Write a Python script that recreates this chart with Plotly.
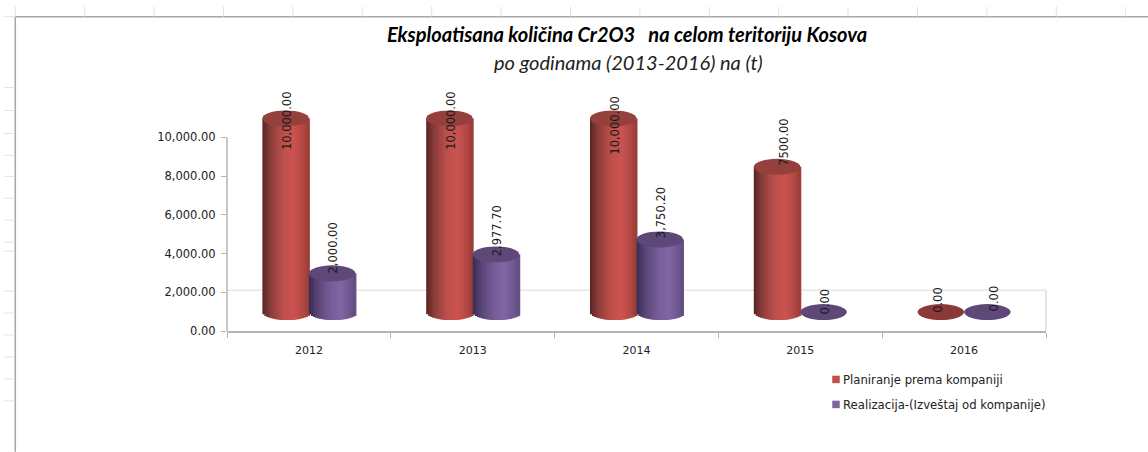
import plotly.graph_objects as go

# ---- data ----
categories = ["2012", "2013", "2014", "2015", "2016"]
planned = [10000.0, 10000.0, 10000.0, 7500.0, 0.0]
realized = [2000.0, 2977.7, 3750.2, 0.0, 0.0]
planned_labels = ["10,000.00", "10,000.00", "10,000.00", "7500.00", "0.00"]
realized_labels = ["2,000.00", "2,977.70", "3,750.20", "0.00", "0.00"]
series_names = ["Planiranje prema kompaniji", "Realizacija-(Izveštaj od kompanije)"]
y_ticks = [0, 2000, 4000, 6000, 8000, 10000]
# hand-placed data labels: pixel nudges (down, right) from the top of each cylinder
planned_nudge = [(2, 2), (2, 2), (7, 2), (-25, 7), (-12, -3)]
realized_nudge = [(-25, 1), (-24, 1), (-27, 2), (-10, 1), (-14, 7)]

# ---- geometry / style ----
W, H = 1148, 452
L, R_PX, B_PX = 227, 1046, 331
PX_PER_UNIT = 194 / 10000
YMAX = 12500
T_PX = B_PX - YMAX * PX_PER_UNIT
DEPTH = 980            # 3-D floor offset of the cylinders, in axis units
CAP = 8 / PX_PER_UNIT  # half height of the elliptical caps
CYL_W = 0.284
N_STRIPS = 23
GREY = "#b4b4b4"

RED_STOPS = [(0, (88, 38, 36)), (0.18, (140, 62, 59)), (0.45, (190, 80, 76)),
             (0.68, (203, 84, 80)), (0.88, (178, 72, 68)), (1, (150, 60, 57))]
PUR_STOPS = [(0, (58, 44, 82)), (0.18, (88, 68, 118)), (0.45, (118, 92, 152)),
             (0.68, (130, 102, 165)), (0.88, (112, 88, 144)), (1, (96, 76, 126))]
RED_TOP, PUR_TOP = "#96403e", "#5e4878"
RED_ZERO, PUR_ZERO = "#8c3a38", "#5e4878"


def shade(stops, t):
    for (t0, c0), (t1, c1) in zip(stops, stops[1:]):
        if t <= t1:
            f = (t - t0) / (t1 - t0)
            return "rgb(%d,%d,%d)" % tuple(a + (b - a) * f for a, b in zip(c0, c1))
    return "rgb(%d,%d,%d)" % stops[-1][1]


def px(x):
    return (x - L) / (R_PX - L)


def py(y):
    return (B_PX - y) / (B_PX - T_PX)


fig = go.Figure()

idx = list(range(len(categories)))
for values, offset, stops in ((planned, -CYL_W / 2, RED_STOPS), (realized, CYL_W / 2, PUR_STOPS)):
    strip = CYL_W / N_STRIPS
    for k in range(N_STRIPS):
        t = (k + 0.5) / N_STRIPS
        u = 2 * t - 1
        drop = CAP * (1 - u * u) ** 0.5
        fig.add_trace(go.Bar(
            x=[i + offset - CYL_W / 2 + k * strip for i in idx],
            y=[v + drop if v > 0 else 0 for v in values],
            base=[DEPTH - drop for _ in values],
            offset=0,
            width=strip * (2.5 if k < N_STRIPS - 1 else 1),  # overlap: the next strip paints over
            marker=dict(color=shade(stops, t), line=dict(width=0)),
            cliponaxis=False, showlegend=False, hoverinfo="skip",
        ))

# legend entries
for name, col in zip(series_names, ("#c0504d", "#8064a2")):
    fig.add_trace(go.Scatter(
        x=[None], y=[None], mode="markers", name=name, legendgroup=name,
        marker=dict(symbol="square", size=7.5, color=col),
    ))

shapes = []
# 3-D wall hint, axis line
WALL = 2100
shapes.append(dict(type="line", xref="paper", yref="y", x0=0, x1=1, y0=WALL, y1=WALL,
                   line=dict(color="#e6e6e6", width=1.5), layer="below"))
shapes.append(dict(type="line", xref="paper", yref="y", x0=1, x1=1, y0=WALL, y1=-200,
                   line=dict(color="#cccccc", width=1), layer="below"))
shapes.append(dict(type="line", xref="paper", yref="y", x0=0, x1=0, y0=0, y1=10000,
                   line=dict(color=GREY, width=1.5), layer="below"))

# cylinder caps
for values, offset, top, zero in ((planned, -CYL_W / 2, RED_TOP, RED_ZERO),
                                  (realized, CYL_W / 2, PUR_TOP, PUR_ZERO)):
    for i, v in zip(idx, values):
        shapes.append(dict(type="circle", xref="x", yref="y",
                           x0=i + offset - CYL_W / 2, x1=i + offset + CYL_W / 2,
                           y0=DEPTH + v - CAP, y1=DEPTH + v + CAP,
                           fillcolor=top if v > 0 else zero, line=dict(width=0), layer="above"))

# spreadsheet frame around the pasted chart
FRAME_X, FRAME_Y = 15.3, 16
shapes.append(dict(type="line", xref="paper", yref="paper", x0=px(FRAME_X), x1=px(W),
                   y0=py(FRAME_Y), y1=py(FRAME_Y), line=dict(color="#a6a6a6", width=1.5)))
shapes.append(dict(type="line", xref="paper", yref="paper", x0=px(FRAME_X), x1=px(FRAME_X),
                   y0=py(FRAME_Y), y1=py(H), line=dict(color="#a6a6a6", width=1.5)))
k = 0
while FRAME_X + 69.4 * k < W:
    xp = FRAME_X + 69.4 * k
    shapes.append(dict(type="line", xref="paper", yref="paper", x0=px(xp), x1=px(xp),
                       y0=py(FRAME_Y), y1=py(6), line=dict(color="#e2e2e2", width=1)))
    k += 1
for yp in [16, 87, 110, 133, 155, 176, 198, 220, 242, 251, 291, 313, 335, 357, 379, 401]:
    shapes.append(dict(type="line", xref="paper", yref="paper", x0=px(4), x1=px(15),
                       y0=py(yp), y1=py(yp), line=dict(color="#e2e2e2", width=1)))

annotations = []
for values, labels, nudges, offset in ((planned, planned_labels, planned_nudge, -CYL_W / 2),
                                       (realized, realized_labels, realized_nudge, CYL_W / 2)):
    for i, v, lab, (down, right) in zip(idx, values, labels, nudges):
        annotations.append(dict(x=i + offset, y=DEPTH + v, xref="x", yref="y", text=lab, textangle=-90,
                                showarrow=False, yshift=-down, xshift=right,
                                xanchor="center", yanchor="middle",
                                font=dict(family="DejaVu Sans", size=11.5, color="#1a1a1a")))

annotations.append(dict(xref="paper", yref="paper", x=px(628), y=py(61),
                        text="<i>po godinama (2013-2016) na (t)</i>", showarrow=False,
                        xanchor="center", yanchor="middle",
                        font=dict(family="Lato", size=20, color="#222222")))

fig.update_layout(
    width=W, height=H, autosize=False,
    margin=dict(l=L, r=W - R_PX, t=T_PX, b=H - B_PX, pad=0, autoexpand=False),
    paper_bgcolor="white", plot_bgcolor="rgba(0,0,0,0)",
    barmode="overlay",
    title=dict(text="<b><i>Eksploatisana količina Cr2O3   na celom teritoriju Kosova</i></b>",
               x=627 / W, xanchor="center", y=1 - 35 / H, yanchor="middle",
               font=dict(family="Lato", size=20, color="black")),
    xaxis=dict(range=[-0.5, 4.5], tickmode="array", tickvals=idx, ticktext=categories,
               ticks="", showgrid=False, zeroline=False, showline=True, linecolor=GREY, linewidth=1.5,
               ticklabelstandoff=8,
               minor=dict(tickmode="array", tickvals=[i - 0.5 for i in range(6)], ticks="outside",
                          ticklen=5, tickcolor=GREY, tickwidth=1, showgrid=False),
               tickfont=dict(family="DejaVu Sans", size=11, color="#222222")),
    yaxis=dict(range=[0, YMAX], tickmode="array", tickvals=y_ticks, tickformat=",.2f",
               ticks="outside", ticklen=5, tickcolor=GREY, showgrid=False, zeroline=False, showline=False,
               ticklabelstandoff=3,
               tickfont=dict(family="DejaVu Sans", size=11.5, color="#222222")),
    legend=dict(x=px(818), y=py(365), xanchor="left", yanchor="top",
                tracegroupgap=6, indentation=-15, bgcolor="rgba(0,0,0,0)",
                font=dict(family="DejaVu Sans", size=11.7, color="#222222")),
    shapes=shapes, annotations=annotations,
    hovermode=False,
)

# The legend swatches sit closer to their text in the reference than Plotly's default.
post = ("document.body.style.margin='0';document.body.style.overflow='hidden';"
        "document.querySelectorAll('.legend .legendpoints').forEach(function(g){"
        "g.setAttribute('transform','translate(13,0)');});")
fig.write_html("out.html", post_script=post, config={"displayModeBar": False})
